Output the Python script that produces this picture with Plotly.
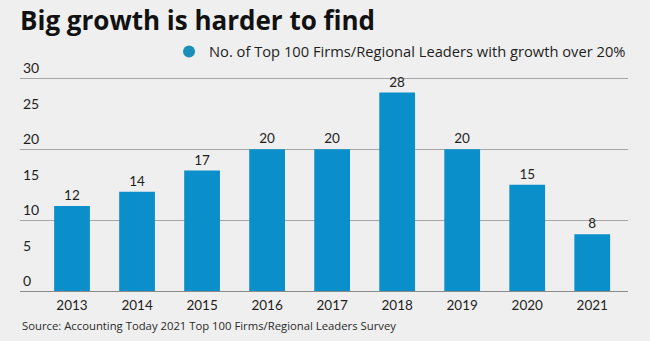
import plotly.graph_objects as go

years = ["2013", "2014", "2015", "2016", "2017", "2018", "2019", "2020", "2021"]
firms_over_20pct = [12, 14, 17, 20, 20, 28, 20, 15, 8]
series_name = "No. of Top 100 Firms/Regional Leaders with growth over 20%"
y_label_ticks = [0, 5, 10, 15, 20, 25, 30]
y_grid_ticks = [0, 10, 20, 30]

BAR = "#0a8fcb"
BG = "#efefef"
INK = "#1e1e1e"
FONT = "Lato"
TEXT_FONT = "Open Sans"

# headroom above 30 so the top tick label stays inside the plot area
Y_RANGE = [0, 34]

fig = go.Figure()

fig.add_trace(go.Bar(
    x=years,
    y=firms_over_20pct,
    marker=dict(color=BAR, line=dict(width=0)),
    width=0.55,
    text=firms_over_20pct,
    textposition="outside",
    textfont=dict(family=FONT, size=13.5, color=INK),
    cliponaxis=False,
    showlegend=False,
))

# circular legend swatch
fig.add_trace(go.Scatter(
    x=[None], y=[None],
    mode="markers",
    marker=dict(symbol="circle", size=9, color="#1a90b8"),
    name=series_name,
    showlegend=True,
))

fig.update_layout(
    width=650,
    height=341,
    paper_bgcolor=BG,
    plot_bgcolor=BG,
    margin=dict(l=20, r=22, t=50, b=50),
    font=dict(family=FONT, color=INK),
    title=dict(
        text="<b>Big growth is harder to find</b>",
        font=dict(family=TEXT_FONT, size=26, color="#111111"),
        x=0, xref="paper", xanchor="left",
        y=0.94, yref="container", yanchor="middle",
        pad=dict(l=0),
    ),
    legend=dict(
        orientation="h",
        x=1.005, xanchor="right",
        y=0.992, yanchor="middle",
        font=dict(family=TEXT_FONT, size=14.7, color=INK),
        bgcolor="rgba(0,0,0,0)",
        itemsizing="constant",
    ),
    xaxis=dict(
        type="category",
        range=[-0.8, 8.55],
        showgrid=False,
        showline=True,
        linecolor="#8a8a8a",
        linewidth=1,
        ticks="",
        tickfont=dict(family=FONT, size=13.5, color=INK),
        ticklabelstandoff=2,
    ),
    yaxis=dict(
        range=Y_RANGE,
        tickvals=y_grid_ticks,
        showticklabels=False,
        showgrid=True,
        gridcolor="#a6a6a6",
        gridwidth=1,
        zeroline=False,
        ticks="",
    ),
    yaxis2=dict(
        overlaying="y",
        side="left",
        range=Y_RANGE,
        tickvals=y_label_ticks,
        showgrid=False,
        zeroline=False,
        ticks="",
        ticklabelposition="inside top",
        tickfont=dict(family=FONT, size=14, color=INK),
    ),
    annotations=[dict(
        text="Source: Accounting Today 2021 Top 100 Firms/Regional Leaders Survey",
        x=0, xref="paper", xanchor="left",
        y=-0.145, yref="paper", yanchor="middle",
        showarrow=False,
        font=dict(family=TEXT_FONT, size=11.3, color="#2a2a2a"),
    )],
)

# keep the label axis active with an invisible anchor
fig.add_trace(go.Scatter(x=[None], y=[None], yaxis="y2", showlegend=False, hoverinfo="skip"))

fig.write_html("out.html")
